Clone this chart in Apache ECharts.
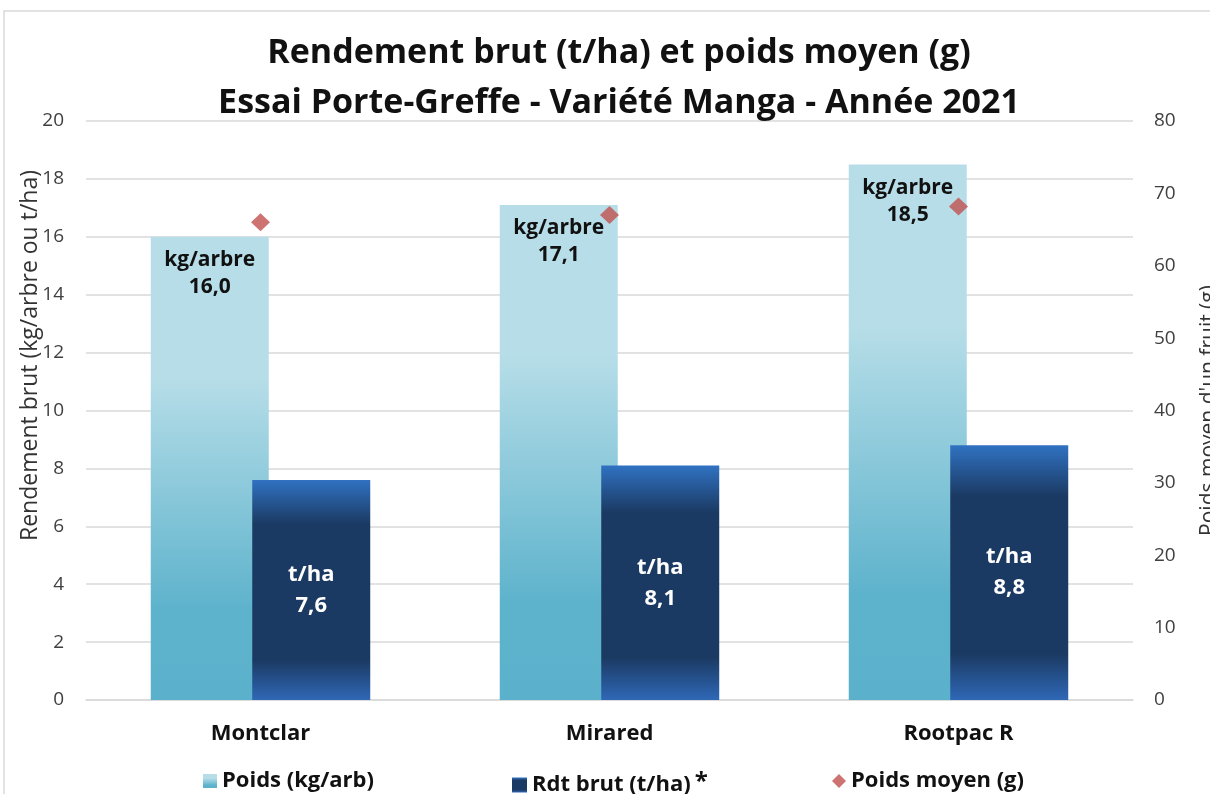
<!DOCTYPE html>
<html>
<head>
<meta charset="utf-8">
<script src="https://cdn.jsdelivr.net/npm/echarts@6/dist/echarts.min.js"></script>
<style>
  html, body { margin: 0; padding: 0; background: #fff; }
  #chart { width: 1210px; height: 794px; }
</style>
</head>
<body>
<div id="chart"></div>
<script>
// données
const categories = ['Montclar', 'Mirared', 'Rootpac R'];
const poidsKgArbre = [16.0, 17.1, 18.5];
const rdtBrutTHa = [7.6, 8.1, 8.8];
const poidsMoyenG = [66.0, 67.0, 68.2];
const leftTicks = { min: 0, max: 20, interval: 2 };
const rightTicks = { min: 0, max: 80, interval: 10 };

const font = '"Open Sans", "Noto Sans", sans-serif';
const virgule = v => v.toFixed(1).replace('.', ',');

const lightGrad = new echarts.graphic.LinearGradient(0, 0, 0, 1, [
  { offset: 0, color: '#b7dee8' },
  { offset: 0.3, color: '#b7dee8' },
  { offset: 0.8, color: '#5eb3cc' },
  { offset: 1, color: '#5bb1cb' }
]);
const darkGrad = new echarts.graphic.LinearGradient(0, 0, 0, 1, [
  { offset: 0, color: '#3072c2' },
  { offset: 0.2, color: '#1b3a63' },
  { offset: 0.82, color: '#1b3a63' },
  { offset: 1, color: '#2f68b6' }
]);

const legendText = { fontFamily: font, fontSize: 22, fontWeight: 'bold', color: '#111' };

let chart = echarts.init(document.getElementById('chart'));
let option = {
  backgroundColor: '#fff',
  textStyle: { fontFamily: font },
  title: {
    text: 'Rendement brut (t/ha) et poids moyen (g)\nEssai Porte-Greffe - Variété Manga - Année 2021',
    left: 614,
    textAlign: 'center',
    top: 23,
    textStyle: { fontFamily: font, fontSize: 34, fontWeight: 'bold', color: '#111', lineHeight: 50 }
  },
  graphic: [{
    type: 'rect',
    shape: { x: 4, y: 11, width: 1400, height: 1000 },
    style: { fill: 'none', stroke: '#d9d9d9', lineWidth: 1.5 },
    silent: true
  }],
  legend: [
    {
      data: ['Poids (kg/arb)'],
      left: 198, top: 765,
      itemWidth: 14, itemHeight: 14, icon: 'rect',
      textStyle: legendText
    },
    {
      data: ['Rdt brut (t/ha)'],
      left: 507, top: 765,
      itemWidth: 15, itemHeight: 15, icon: 'rect',
      formatter: n => '{t|' + n + '}{sup|*}',
      textStyle: Object.assign({}, legendText, {
        rich: {
          t: { fontFamily: font, fontSize: 22, fontWeight: 'bold', color: '#111', lineHeight: 30 },
          sup: { fontFamily: font, fontSize: 24, fontWeight: 'bold', color: '#111', lineHeight: 4, verticalAlign: 'top', padding: [0, 0, 0, 4] }
        }
      })
    },
    {
      data: ['Poids moyen (g)'],
      left: 827, top: 765,
      itemWidth: 14, itemHeight: 14, icon: 'diamond',
      textStyle: legendText
    }
  ],
  grid: { left: 86, right: 77, top: 121, bottom: 94, outerBoundsMode: 'none' },
  xAxis: {
    type: 'category',
    data: categories,
    axisLine: { lineStyle: { color: '#d9d9d9', width: 1.5 } },
    axisTick: { show: false },
    axisLabel: { margin: 23, fontSize: 22, fontWeight: 'bold', color: '#111', fontFamily: font }
  },
  yAxis: [
    {
      type: 'value',
      min: leftTicks.min, max: leftTicks.max, interval: leftTicks.interval,
      name: 'Rendement brut (kg/arbre ou t/ha)',
      nameLocation: 'middle',
      nameGap: 44,
      nameMoveOverlap: false,
      nameRotate: 90,
      nameTextStyle: { fontSize: 23, color: '#333', fontFamily: font, padding: [0, 0, 0, 110] },
      axisLine: { show: false },
      axisTick: { show: false },
      axisLabel: { margin: 22, fontSize: 19, color: '#404040', fontFamily: font },
      splitLine: { lineStyle: { color: '#d9d9d9', width: 1.5 } }
    },
    {
      type: 'value',
      min: rightTicks.min, max: rightTicks.max, interval: rightTicks.interval,
      name: "Poids moyen d'un fruit (g)",
      nameLocation: 'middle',
      nameGap: 66,
      nameRotate: 90,
      nameTextStyle: { fontSize: 21, color: '#333', fontFamily: font },
      axisLine: { show: false },
      axisTick: { show: false },
      axisLabel: { margin: 21, fontSize: 19, color: '#404040', fontFamily: font },
      splitLine: { show: false }
    }
  ],
  series: [
    {
      name: 'Poids (kg/arb)',
      type: 'bar',
      data: poidsKgArbre,
      barWidth: 118,
      barGap: '-14%',
      itemStyle: { color: lightGrad },
      label: {
        show: true,
        position: 'insideTop',
        distance: 10,
        formatter: p => 'kg/arbre\n' + virgule(p.value),
        fontFamily: font, fontSize: 21, fontWeight: 'bold', color: '#111', lineHeight: 27
      }
    },
    {
      name: 'Rdt brut (t/ha)',
      type: 'bar',
      data: rdtBrutTHa,
      barWidth: 118,
      itemStyle: { color: darkGrad },
      label: {
        show: true,
        position: 'inside',
        formatter: p => 't/ha\n' + virgule(p.value),
        fontFamily: font, fontSize: 22, fontWeight: 'bold', color: '#fff', lineHeight: 31
      }
    },
    {
      name: 'Poids moyen (g)',
      type: 'scatter',
      yAxisIndex: 1,
      data: poidsMoyenG,
      symbol: 'diamond',
      symbolSize: [19, 18],
      itemStyle: { color: '#c0504d' },
      z: 5
    }
  ]
};
chart.setOption(option);
</script>
</body>
</html>
